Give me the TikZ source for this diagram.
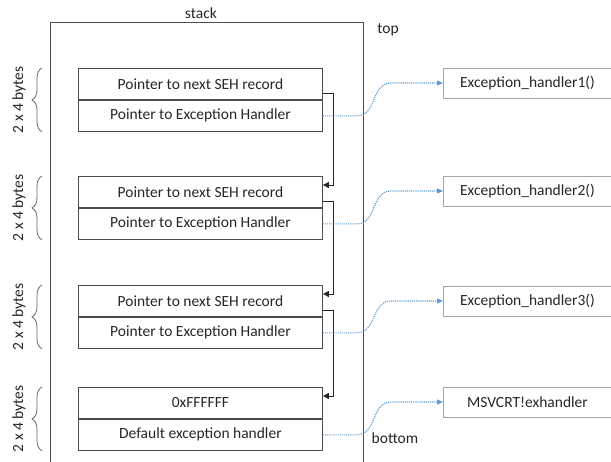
\documentclass[tikz,border=0pt]{standalone}
\usepackage{fontspec}
\setmainfont{Carlito}
\usetikzlibrary{arrows.meta, decorations.pathreplacing}
\definecolor{linkblue}{RGB}{91,155,213}

\begin{document}
\begin{tikzpicture}
[x=1pt, y=-1pt, font=\fontsize{15.5}{17}\selectfont, text=black!85,
cell/.style={rectangle, draw=black!70, line width=.9pt, anchor=north west, inner sep=0pt, minimum width=244pt, minimum height=31pt},
handler/.style={rectangle, draw=black!35, line width=.9pt, anchor=west, inner sep=0pt, minimum width=168pt, minimum height=30pt},
chain/.style={draw=black!85, line width=.9pt, -{Triangle[length=6pt,width=6pt]}},
link/.style={draw=linkblue, densely dotted, line width=1.1pt, -{Triangle[length=6pt,width=5pt]}},
size/.style={decorate, decoration={brace, amplitude=10pt}, draw=black!60, line width=.8pt},
]
\useasboundingbox (0,0) rectangle (611,461);

\node[draw=black!70, line width=.9pt, anchor=north west, minimum width=313pt, minimum height=470pt,
  label={[xshift=-6pt]above:stack}] (stack) at (50,22) {};
\node (top) at (388,30) {top};
\node (bottom) at (395,438) {bottom};

% SEH records on the stack
\foreach \i/\t in {1/68, 2/176, 3/285}{
  \node[cell] (next\i) at (78,\t) {Pointer to next SEH record};
  \node[cell, anchor=north] (hand\i) at (next\i.south) {Pointer to Exception Handler};
}
\node[cell] (next4) at (78,387) {0xFFFFFF};
\node[cell, anchor=north] (hand4) at (next4.south) {Default exception handler};

\foreach \i in {1,...,4}
  \draw[size] ([xshift=-36pt]hand\i.south west) -- ([xshift=-36pt]next\i.north west)
    node[midway, xshift=-16pt, rotate=90, anchor=south, inner sep=0pt] {2 x 4 bytes};

% handlers
\foreach \i/\y/\name in {1/83/Exception\_handler1(), 2/191/Exception\_handler2(), 3/301/Exception\_handler3(), 4/402/MSVCRT!exhandler}
  \node[handler] (ex\i) at (443,\y) {\name};

\foreach \i/\j in {1/2, 2/3, 3/4}
  \draw[chain] ([yshift=6pt]next\i.south east) -- ++(11,0) |- ([yshift=-9pt]next\j.north east);

\foreach \i in {1,...,4}
  \draw[link] (hand\i.east) -- ++(34,0) .. controls +(20,0) and +(-20,0) .. ([xshift=-52pt]ex\i.west) -- (ex\i.west);
\end{tikzpicture}
\end{document}
